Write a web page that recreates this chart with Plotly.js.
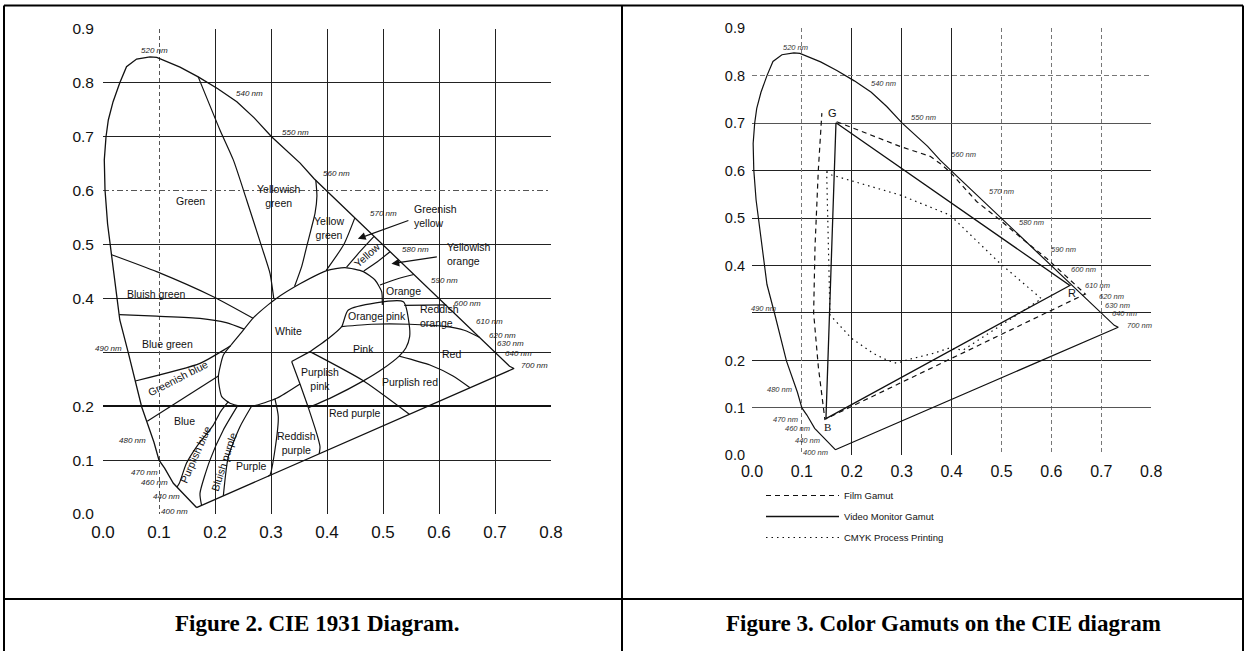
<!DOCTYPE html>
<html><head><meta charset="utf-8">
<script src="https://cdn.plot.ly/plotly-3.0.1.min.js"></script>
<style>html,body{margin:0;padding:0;background:#fff}#chart{width:1247px;height:651px}</style>
</head><body><div id="chart"></div>
<script>
// ---------- axis ticks ----------
const xTickVals = [0,0.1,0.2,0.3,0.4,0.5,0.6,0.7,0.8];
const xTickText = ['0.0','0.1','0.2','0.3','0.4','0.5','0.6','0.7','0.8'];
const yTickVals = [0,0.1,0.2,0.4,0.5,0.6,0.7,0.8,0.9];
const yTickText = ['0.0','0.1','0.2','0.4','0.5','0.6','0.7','0.8','0.9'];

// grid line sets
const gridSolidXL = [0,0.2,0.3,0.4,0.5,0.6,0.7];
const gridDashXL  = [0.1,0.8];
const gridSolidYL = [0,0.1,0.3,0.4,0.5,0.7,0.8,0.9];
const gridDashYL  = [0.6];
const gridBoldYL  = [0.2];
const gridSolidXR = [0.2,0.3,0.4];
const gridDashXR  = [0,0.1,0.5,0.6,0.7,0.8];
const gridSolidYR = [0,0.2,0.3,0.4,0.5,0.6];
const gridGreyYR  = [0.1,0.7];
const gridDashYR  = [0.8,0.9];

// ---------- spectral locus (400 nm -> 700 nm), closed by the purple line ----------
const locusX = [0.167,0.149,0.1256,0.110,0.100,0.091,0.069,0.045,0.030,0.0235,0.0155,0.0082,0.0036,0.0023,0.0054,0.0095,0.018,0.030,0.042,0.060,0.084,0.096,0.1375,0.170,0.205,0.239,0.270,0.301,0.352,0.377,0.409,0.444,0.479,0.5125,0.545,0.575,0.603,0.627,0.648,0.666,0.6915,0.708,0.719,0.726,0.734,0.167];
const locusY = [0.012,0.032,0.057,0.085,0.100,0.133,0.199,0.300,0.360,0.413,0.484,0.538,0.601,0.657,0.700,0.731,0.765,0.800,0.830,0.844,0.848,0.847,0.829,0.811,0.789,0.765,0.735,0.700,0.651,0.622,0.590,0.555,0.520,0.4866,0.4544,0.4242,0.3965,0.3725,0.3514,0.334,0.3083,0.292,0.2809,0.274,0.270,0.012];

// ---------- CIE 1931 region boundaries (left figure) ----------
const bWhite = [[0.3518,0.2412],[0.310,0.2146],[0.268,0.2004],[0.2446,0.2004],[0.2268,0.2053],[0.212,0.2177],[0.2077,0.236],[0.206,0.255],[0.2095,0.275],[0.215,0.295],[0.229,0.314],[0.245,0.334],[0.2685,0.364],[0.3071,0.398],[0.3518,0.427],[0.3994,0.4515],[0.4321,0.457],[0.4649,0.4496],[0.4857,0.4341],[0.4976,0.4125],[0.4988,0.394],[0.4988,0.388]];
const bPink = [[0.3696,0.3012],[0.403,0.326],[0.4262,0.3476],[0.4381,0.3785],[0.5363,0.394],[0.5467,0.352],[0.5476,0.329],[0.5408,0.308],[0.5289,0.293],[0.4991,0.269],[0.4649,0.247],[0.4113,0.2177],[0.3668,0.197]];
const bRedOrange = [[0.4262,0.3476],[0.48,0.352],[0.547,0.352],[0.61,0.348],[0.645,0.341],[0.672,0.328]];
const bOrangeTop = [[0.538,0.387],[0.613,0.388]];
const bOrange = [[0.4946,0.4249],[0.525,0.436],[0.555,0.4443]];
const bYellowOrange = [[0.4657,0.451],[0.49,0.468],[0.5125,0.4866]];
const bYellow = [[0.435,0.458],[0.46,0.488],[0.484,0.515]];
const bGreenishYellow = [[0.3986,0.452],[0.43,0.5],[0.4495,0.549]];
const bYellowGreen = [[0.342,0.422],[0.355,0.46],[0.3637,0.496],[0.372,0.53],[0.3786,0.5578],[0.382,0.59],[0.380,0.619]];
const bYellowishGreen = [[0.170,0.811],[0.19,0.76],[0.209,0.712],[0.2327,0.657],[0.2565,0.5826],[0.2833,0.496],[0.2982,0.4465],[0.305,0.399]];
const bGreen = [[0.0155,0.481],[0.0958,0.4496],[0.197,0.403],[0.268,0.363]];
const bBluishGreen = [[0.029,0.370],[0.0958,0.367],[0.173,0.363],[0.22,0.355],[0.252,0.343]];
const bBlueGreen = [[0.0576,0.2468],[0.1732,0.2795],[0.2208,0.3074],[0.228,0.312]];
const bGreenishBlue = [[0.079,0.172],[0.206,0.256]];
const bBlue = [[0.2238,0.2084],[0.21,0.19],[0.197,0.165],[0.1673,0.125],[0.149,0.094],[0.1363,0.0569],[0.132,0.050]];
const bPurplishBlue = [[0.2405,0.201],[0.2149,0.1558],[0.191,0.100],[0.1732,0.0383],[0.176,0.0161]];
const bBluishPurple = [[0.2655,0.2004],[0.2446,0.162],[0.2238,0.1064],[0.2149,0.0338]];
const bPurple = [[0.307,0.2136],[0.313,0.1806],[0.307,0.1187],[0.2982,0.0724],[0.295,0.0702]];
const bReddishPurple = [[0.3668,0.197],[0.3815,0.1497],[0.3875,0.1249],[0.386,0.1116]];
const bPurplishPinkL = [[0.3369,0.283],[0.3518,0.2412],[0.3668,0.197]];
const bPurplishPinkT = [[0.3369,0.283],[0.3696,0.3012]];
const bRedPurple = [[0.3696,0.3012],[0.4635,0.248],[0.547,0.185]];
const bRed = [[0.5289,0.293],[0.5839,0.2764],[0.625,0.256],[0.6554,0.2342]];
const regionBoundaries = [bWhite,bPink,bRedOrange,bOrangeTop,bOrange,bYellowOrange,bYellow,bGreenishYellow,bYellowGreen,bYellowishGreen,bGreen,bBluishGreen,bBlueGreen,bGreenishBlue,bBlue,bPurplishBlue,bBluishPurple,bPurple,bReddishPurple,bPurplishPinkL,bPurplishPinkT,bRedPurple,bRed];

// region names
const regionNames  = ['Green','Yellowish<br>green','Yellow<br>green','Greenish<br>yellow','Yellow','Yellowish<br>orange','Orange','Orange pink','Reddish<br>orange','Red','Pink','White','Bluish green','Blue green','Greenish blue','Blue','Purplish blue','Bluish purple','Purple','Reddish<br>purple','Purplish<br>pink','Purplish red','Red purple'];
const regionX      = [0.157,0.314,0.404,0.551,0.4714,0.6105,0.536,0.489,0.563,0.6225,0.4643,0.3315,0.095,0.1147,0.134,0.1458,0.1656,0.215,0.2645,0.3456,0.3866,0.5483,0.4494];
const regionY      = [0.580,0.590,0.5315,0.552,0.480,0.482,0.4143,0.368,0.368,0.2966,0.3066,0.3397,0.4082,0.3159,0.2529,0.1719,0.1108,0.0972,0.0896,0.1325,0.2496,0.245,0.1873];
const regionAngle  = [0,0,0,0,-42,0,0,0,0,0,0,0,0,0,-27,0,-66,-72,0,0,0,0,0];
const regionAnchor = ['center','center','center','left','center','left','center','center','left','center','center','center','center','center','center','center','center','center','center','center','center','center','center'];

// arrows (head -> tail)
const arrowHeadX = [0.4551,0.5151];
const arrowHeadY = [0.5106,0.4644];
const arrowTailX = [0.548,0.5988];
const arrowTailY = [0.5455,0.4774];

// wavelength labels
const waveTextL = ['520 nm','510 nm','500 nm','490 nm','480 nm','470 nm','460 nm','440 nm','400 nm','540 nm','550 nm','560 nm','570 nm','580 nm','590 nm','600 nm','610 nm','620 nm','630 nm','640 nm','700 nm'];
const waveXL = [0.0915,-0.018,-0.027,0.0102,0.0526,0.0738,0.0915,0.1126,0.127,0.2611,0.3442,0.4162,0.501,0.5575,0.6105,0.6507,0.6903,0.7129,0.727,0.7411,0.7708];
const waveYL = [0.8596,0.793,0.5437,0.3066,0.1372,0.0771,0.0578,0.0332,0.0047,0.7801,0.7087,0.6317,0.5569,0.4914,0.4336,0.3912,0.3566,0.3312,0.3158,0.2973,0.2757];
const waveXR = [0.0881,-0.016,-0.024,0.0223,0.0561,0.0681,0.0921,0.1121,0.1281,0.2644,0.3445,0.4246,0.5007,0.5608,0.6249,0.665,0.6929,0.721,0.7331,0.7467,0.7772];
const waveYR = [0.8587,0.7686,0.548,0.3103,0.139,0.0761,0.0569,0.0324,0.0062,0.7843,0.7117,0.6339,0.555,0.4912,0.4346,0.3926,0.3576,0.334,0.3165,0.299,0.2745];

// ---------- gamuts (right figure) ----------
const filmX = [0.1697,0.2966,0.357,0.377,0.397,0.450,0.497,0.544,0.590,0.624,0.668,0.146,0.1329,0.1235,0.1263,0.1329,0.140];
const filmY = [0.703,0.651,0.630,0.615,0.597,0.535,0.496,0.454,0.4155,0.383,0.340,0.076,0.187,0.300,0.440,0.601,0.721];
const videoX = [0.1683,0.637,0.1482,0.1683];
const videoY = [0.7009,0.358,0.0775,0.7009];
const cmykX = [0.1496,0.1597,0.2966,0.3968,0.497,0.580,0.4235,0.3935,0.3634,0.310,0.2899,0.2699,0.2432,0.1997,0.1563,0.1496];
const cmykY = [0.598,0.5907,0.5486,0.5063,0.4046,0.330,0.2221,0.2256,0.215,0.201,0.194,0.201,0.2149,0.2465,0.2958,0.598];
const gamutNames = ['Film Gamut','Video Monitor Gamut','CMYK Process Printing'];
const primaryText = ['G','R','B'];
const primaryX = [0.161,0.6406,0.1516];
const primaryY = [0.7206,0.3414,0.0605];

// ---------- build ----------
const W = 1247, H = 651;
const px = v => v / W, py = v => 1 - v / H;
const sans = 'Liberation Sans, Arial, Helvetica, sans-serif';
const serif = 'Liberation Serif, Times New Roman, serif';
const traces = [];
const black = '#111';

traces.push({x: locusX, y: locusY, xaxis:'x', yaxis:'y', mode:'lines', line:{color:black, width:1.3}, showlegend:false, hoverinfo:'skip'});
regionBoundaries.forEach(b => traces.push({x: b.map(p=>p[0]), y: b.map(p=>p[1]), xaxis:'x', yaxis:'y', mode:'lines', line:{color:black, width:1.2, shape:'spline', smoothing:0.6}, showlegend:false, hoverinfo:'skip'}));

traces.push({x: locusX, y: locusY, xaxis:'x2', yaxis:'y2', mode:'lines', line:{color:black, width:1.2}, showlegend:false, hoverinfo:'skip'});
traces.push({x: filmX, y: filmY, xaxis:'x2', yaxis:'y2', mode:'lines', name: gamutNames[0], legendgroup:'a', line:{color:black, width:1.2, dash:'5px,4px'}});
traces.push({x: videoX, y: videoY, xaxis:'x2', yaxis:'y2', mode:'lines', name: gamutNames[1], legendgroup:'b', line:{color:black, width:1.3}});
traces.push({x: cmykX, y: cmykY, xaxis:'x2', yaxis:'y2', mode:'lines', name: gamutNames[2], legendgroup:'c', line:{color:black, width:1.2, dash:'1.5px,4px'}});

// dummy traces to activate grid overlay axes
[['x3','y3'],['x5','y5'],['x7','y7'],['x4','y4'],['x6','y6'],['x8','y8']].forEach(p => traces.push({x:[null], y:[null], xaxis:p[0], yaxis:p[1], mode:'lines', showlegend:false, hoverinfo:'skip'}));

const domXL = [px(103), px(551)], domYL = [py(514), py(514 - 0.9*539)];
const domXR = [px(752), px(752 + 0.8*499)], domYR = [py(455.4), py(455.4 - 0.9*474.7)];

function mainAx(domain, range, vals, text, anchor, size, standoff) {
  return {domain, range, tickmode:'array', tickvals: vals, ticktext: text, showgrid:false, zeroline:false, showline:false, ticks:'', tickfont:{family:sans, size, color:black}, anchor, fixedrange:true, ticklabelstandoff: standoff};
}
function gridAx(overlaying, range, vals, color, width, dash, anchor) {
  return {overlaying, range, tickmode:'array', tickvals: vals, showticklabels:false, ticks:'', showgrid: vals.length>0, gridcolor: color, gridwidth: width, griddash: dash, zeroline:false, showline:false, anchor, fixedrange:true};
}

const annotations = [];
regionNames.forEach((t,i) => annotations.push({xref:'x', yref:'y', x: regionX[i], y: regionY[i], text: t, showarrow:false, textangle: regionAngle[i], xanchor: regionAnchor[i], align: regionAnchor[i]==='left'?'left':'center', font:{family:sans, size:10.5, color:black}}));
arrowHeadX.forEach((v,i) => annotations.push({xref:'x', yref:'y', axref:'x', ayref:'y', x: v, y: arrowHeadY[i], ax: arrowTailX[i], ay: arrowTailY[i], text:'', showarrow:true, arrowhead:2, arrowsize:1.3, arrowwidth:1.2, arrowcolor:black, standoff:0}));
waveTextL.forEach((t,i) => annotations.push({xref:'x', yref:'y', x: waveXL[i], y: waveYL[i], text:'<i>'+t+'</i>', showarrow:false, font:{family:sans, size:8, color:'#222'}}));
waveTextL.forEach((t,i) => annotations.push({xref:'x2', yref:'y2', x: waveXR[i], y: waveYR[i], text:'<i>'+t+'</i>', showarrow:false, font:{family:sans, size:7.5, color:'#333'}}));
primaryText.forEach((t,i) => annotations.push({xref:'x2', yref:'y2', x: primaryX[i], y: primaryY[i], text: t, showarrow:false, font:{family: i===2?serif:sans, size:11, color:black}}));
annotations.push({xref:'paper', yref:'paper', x: px(317), y: py(623), xanchor:'center', yanchor:'middle', text:'<b>Figure 2. CIE 1931 Diagram.</b>', showarrow:false, font:{family:serif, size:23, color:'#000'}});
annotations.push({xref:'paper', yref:'paper', x: px(943), y: py(623), xanchor:'center', yanchor:'middle', text:'<b>Figure 3. Color Gamuts on the CIE diagram</b>', showarrow:false, font:{family:serif, size:23, color:'#000'}});

const border = {color:'#000', width:2};
const shapes = [
  {type:'line', xref:'paper', yref:'paper', x0: px(4), x1: px(1243), y0: py(5.5), y1: py(5.5), line: border},
  {type:'line', xref:'paper', yref:'paper', x0: px(4), x1: px(1243), y0: py(599), y1: py(599), line: border},
  {type:'line', xref:'paper', yref:'paper', x0: px(4), x1: px(4), y0: py(5.5), y1: 0, line: border},
  {type:'line', xref:'paper', yref:'paper', x0: px(622), x1: px(622), y0: py(5.5), y1: 0, line: border},
  {type:'line', xref:'paper', yref:'paper', x0: px(1243), x1: px(1243), y0: py(5.5), y1: 0, line: border}
];

const layout = {
  width: W, height: H, margin:{l:0,r:0,t:0,b:0}, paper_bgcolor:'#fff', plot_bgcolor:'rgba(0,0,0,0)',
  font:{family:sans, color:black},
  showlegend:true,
  legend:{x: px(761), y: py(481), xanchor:'left', yanchor:'top', itemwidth:73, font:{family:sans, size:9.5, color:black}, tracegroupgap:2, bgcolor:'rgba(0,0,0,0)', borderwidth:0},
  xaxis: mainAx(domXL, [0,0.8], xTickVals, xTickText, 'y', 17, 6),
  yaxis: mainAx(domYL, [0,0.9], yTickVals, yTickText, 'x', 15.5, 8),
  xaxis2: mainAx(domXR, [0,0.8], xTickVals, xTickText, 'y2', 16, 5),
  yaxis2: mainAx(domYR, [0,0.9], yTickVals, yTickText, 'x2', 14.5, 6),
  xaxis3: gridAx('x', [0,0.8], gridSolidXL, '#222', 1, 'solid', 'y'),
  yaxis3: gridAx('y', [0,0.9], gridSolidYL, '#222', 1, 'solid', 'x'),
  xaxis5: gridAx('x', [0,0.8], gridDashXL, '#555', 1, '4px,3px', 'y'),
  yaxis5: gridAx('y', [0,0.9], gridDashYL, '#555', 1, '6px,3px,2px,3px', 'x'),
  xaxis7: gridAx('x', [0,0.8], [], '#000', 1, 'solid', 'y'),
  yaxis7: gridAx('y', [0,0.9], gridBoldYL, '#111', 2.2, 'solid', 'x'),
  xaxis4: gridAx('x2', [0,0.8], gridSolidXR, '#222', 1, 'solid', 'y2'),
  yaxis4: gridAx('y2', [0,0.9], gridSolidYR, '#222', 1, 'solid', 'x2'),
  xaxis6: gridAx('x2', [0,0.8], gridDashXR, '#777', 1, '4px,3px', 'y2'),
  yaxis6: gridAx('y2', [0,0.9], gridDashYR, '#777', 1, '5px,3px', 'x2'),
  xaxis8: gridAx('x2', [0,0.8], [], '#000', 1, 'solid', 'y2'),
  yaxis8: gridAx('y2', [0,0.9], gridGreyYR, '#555', 1, 'solid', 'x2'),
  annotations, shapes
};

Plotly.newPlot('chart', traces, layout, {staticPlot:true, displayModeBar:false});
</script></body></html>
